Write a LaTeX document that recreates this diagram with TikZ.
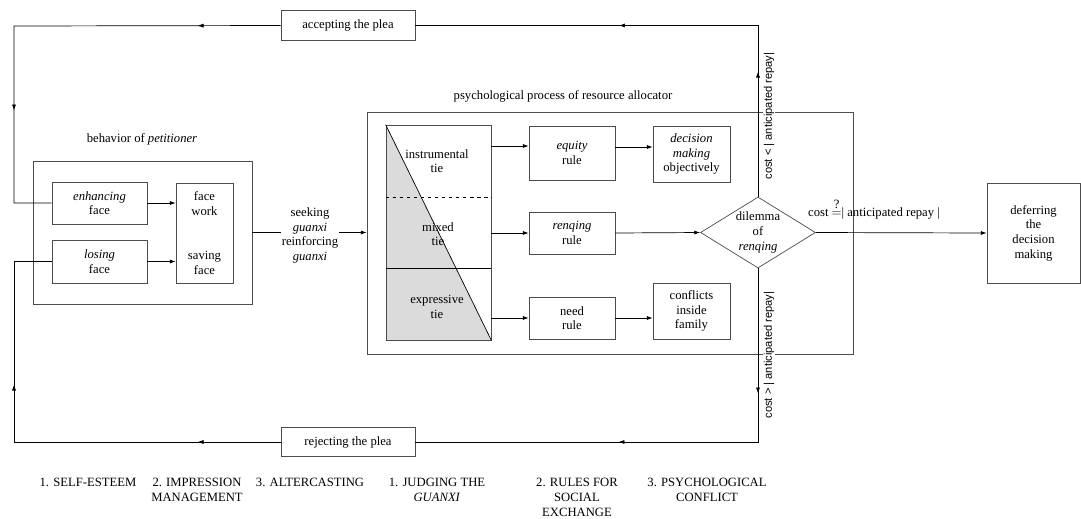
\documentclass[tikz,border=0pt]{standalone}
\usepackage{amsmath}
\usepackage{fontspec}
\setmainfont{Liberation Serif}
\newfontfamily\arialfont{Liberation Sans}
\usetikzlibrary{shapes.geometric, arrows.meta, decorations.markings, calc}

\tikzset{
  box/.style 2 args={draw=black!70, fill=white, minimum width=#1*0.03cm,
    minimum height=#2*0.03cm, inner sep=1pt, align=center},
  txt/.style={align=center, inner sep=1pt},
  arr/.style={-{Latex[length=5pt,width=3.5pt]}},
  midtips/.style 2 args={postaction={decorate}, decoration={markings,
    mark=at position #1 with {\arrow{Latex[length=5pt,width=3.5pt]}},
    mark=at position #2 with {\arrow{Latex[length=5pt,width=3.5pt]}}}},
  costlbl/.style={rotate=90, fill=white, inner sep=1pt,
    font=\arialfont\fontsize{9.5}{11}\selectfont},
}

\begin{document}
\begin{tikzpicture}[x=0.03cm, y=-0.03cm, line width=0.6pt,
    font=\fontsize{10.8}{12.5}\selectfont]
\useasboundingbox (0,0) rectangle (1081,518);

% petitioner
\node[box={219}{143}] (beh) at (142.5,232.5) {};
\node[txt] (behlbl) at (142,139) {behavior of \textit{petitioner}};
\node[box={95}{42}] (enh) at (99.5,203) {\textit{enhancing}\\face};
\node[box={95}{43}] (los) at (99.5,261.5) {\textit{losing}\\face};
\node[box={57}{100}] (fw) at (204.5,233) {face\\work\\[25pt]saving\\face};
\draw[arr] (enh.east) -- (enh.east -| fw.west);
\draw[arr] (los.east) -- (los.east -| fw.west);

% resource allocator
\node[box={486}{242}] (psy) at (610,233) {};
\node[txt] (psylbl) at (563,96) {psychological process of resource allocator};
\node[box={105}{215}, path picture={
    \fill[black!14] (path picture bounding box.north west)
      -- (path picture bounding box.south east)
      -- (path picture bounding box.south west) -- cycle;}] (tie) at (438.5,232.5) {};
\draw (tie.north west) -- (tie.south east);
\draw[dashed] (tie.west |- 0,197) -- (tie.east |- 0,197);
\draw (tie.west |- 0,268) -- (tie.east |- 0,268);
\node[txt] (ins) at (437,161) {instrumental\\tie};
\node[txt] (mix) at (438,234) {mixed\\tie};
\node[txt] (exp) at (437,307) {expressive\\tie};

\node[box={86}{54}] (eq) at (572,153) {\textit{equity}\\rule};
\node[box={86}{42}] (ren) at (572,233) {\textit{renqing}\\rule};
\node[box={86}{42}] (need) at (572,318) {need\\rule};
\node[box={77}{56}] (dec) at (691.5,154) {\textit{decision}\\\textit{making}\\objectively};
\node[box={77}{56}] (conf) at (691.5,311) {conflicts\\inside\\family};
\node[draw=black!70, fill=white, diamond, aspect=1.6, inner sep=0pt,
  minimum width=115*0.03cm, minimum height=71*0.03cm, align=center]
  (dil) at (758,232.5) {dilemma\\of\\\textit{renqing}};
\node[box={93}{100}] (def) at (1033.5,233) {deferring\\the\\decision\\making};

\draw[arr] ($(tie.east |- eq.west)+(0,-7)$) -- ($(eq.west)+(0,-7)$);
\draw[arr] ($(eq.east)+(0,-6)$) -- ($(eq.east -| dec.west)+(0,-6)$);
\draw[arr] (tie.east |- ren.west) -- (ren.west);
\draw[arr] (ren.east) -- (dil.west);
\draw[arr] (tie.east |- need.west) -- (need.west);
\draw[arr] (need.east) -- (need.east -| conf.west);
\draw[arr] (dil.east) -- (def.west);
\node[txt, anchor=base] (eqlbl) at (874,216)
  {cost $\overset{\textstyle\text{?}}{=}$| anticipated repay |};

% seeking guanxi
\draw[arr] (beh.east) -- (beh.east -| psy.west);
\node[txt, fill=white] (seek) at (310,235.5)
  {seeking\\\textit{guanxi}\\reinforcing\\\textit{guanxi}};

% feedback loops
\node[box={134}{30}] (acc) at (348,25.5) {accepting the plea};
\node[box={134}{29}] (rej) at (348,442) {rejecting the plea};
\coordinate (tl) at (14,26);
\coordinate (bl) at (14,442);
\draw[midtips={3.75cm}{9.3cm}] (dil.north) |- (acc.east);
\draw[midtips={2.49cm}{10.53cm}] (acc.west) -- (tl) |- (enh.west);
\draw[midtips={3.75cm}{9.39cm}] (dil.south) |- (rej.east);
\draw[midtips={2.49cm}{9.72cm}] (rej.west) -- (bl) |- (los.west);
\node[costlbl] (cless) at (769,116) {cost < | anticipated repay|};
\node[costlbl] (cmore) at (769,355) {cost > | anticipated repay|};

% concepts
\node[txt, anchor=north] (l1) at (88,477) {1. SELF-ESTEEM};
\node[txt, anchor=north] (l2) at (197,477) {2. IMPRESSION\\MANAGEMENT};
\node[txt, anchor=north] (l3) at (310,477) {3. ALTERCASTING};
\node[txt, anchor=north] (l4) at (437,477) {1. JUDGING THE\\\textit{GUANXI}};
\node[txt, anchor=north] (l5) at (577,477) {2. RULES FOR\\SOCIAL\\EXCHANGE};
\node[txt, anchor=north] (l6) at (707,477) {3. PSYCHOLOGICAL\\CONFLICT};
\end{tikzpicture}
\end{document}
